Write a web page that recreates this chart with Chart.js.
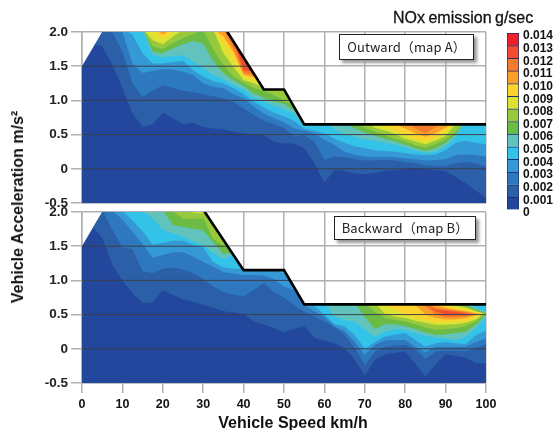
<!DOCTYPE html>
<html>
<head>
<meta charset="utf-8">
<title>NOx emission map</title>
<script src="https://cdn.jsdelivr.net/npm/chart.js@4/dist/chart.umd.min.js"></script>
<style>
  html, body { margin: 0; padding: 0; background: #fff; }
  #page { position: relative; width: 555px; height: 430px; overflow: hidden; font-family: "Liberation Sans", Arial, sans-serif; color: #111; }
  canvas { position: absolute; left: 0; top: 0; }
  .txt { position: absolute; white-space: nowrap; }
  .mapbox { position: absolute; box-sizing: border-box; background: #fff; border: 1.5px solid #222; box-shadow: 3px 3px 3px #999; font: 13px "Noto Sans CJK JP", sans-serif; letter-spacing: 0.1px; text-align: center; color: #222; }
</style>
</head>
<body>
<div id="page">
  <canvas id="outward" width="555" height="430"></canvas>
  <canvas id="backward" width="555" height="430"></canvas>
  <canvas id="scale" width="555" height="430"></canvas>
  <div class="txt" style="left:393px;top:9px;font-size:16px;word-spacing:-1px;-webkit-text-stroke:0.3px #111;">NOx emission g/sec</div>
  <div class="txt" style="left:293px;top:414px;transform:translateX(-50%);font-size:16px;font-weight:bold;">Vehicle Speed km/h</div>
  <div class="txt" style="left:18px;top:207px;transform:translate(-50%,-50%) rotate(-90deg);font-size:16px;font-weight:bold;">Vehicle Acceleration m/s²</div>
  <div class="mapbox" style="left:339px;top:34px;width:135px;height:26px;line-height:23px;">Outward（map A）</div>
  <div class="mapbox" style="left:334px;top:216px;width:142px;height:24px;line-height:21px;">Backward（map B）</div>
</div>
<script>
const speedTicks = [0, 10, 20, 30, 40, 50, 60, 70, 80, 90, 100];
const accelTicks = [-0.5, 0, 0.5, 1.0, 1.5, 2.0];
const speedGrid = [0, 2.5, 5, 7.5, 10, 12.5, 15, 17.5, 20, 22.5, 25, 27.5, 30, 32.5, 35, 37.5, 40, 42.5, 45, 47.5, 50,
  52.5, 55, 57.5, 60, 62.5, 65, 67.5, 70, 72.5, 75, 77.5, 80, 82.5, 85, 87.5, 90, 92.5, 95, 97.5, 100];

// colour steps of the scale bar, 0 .. 0.014
const noxColors = ['#22479c', '#2b5fa8', '#2e78bf', '#3499d4', '#33c3e8', '#62c3bd', '#6bbb45',
  '#97c93c', '#dde233', '#fdd42e', '#f9a02b', '#f47a2d', '#f04e2e', '#ed2226'];
const noxStep = 0.001;

// operating limit of each map, [speed, accel]
const outwardLimit = [[0, 1.5], [5, 2], [36, 2], [45, 1.16], [50, 1.16], [55, 0.65], [100, 0.65]];
const backwardLimit = [[0, 1.5], [5, 2], [30.4, 2], [40, 1.15], [50, 1.15], [55, 0.65], [100, 0.65]];
const outwardEdge = [[36, 2], [45, 1.16], [50, 1.16], [55, 0.65], [100, 0.65]];
const backwardEdge = [[30.4, 2], [40, 1.15], [50, 1.15], [55, 0.65], [100, 0.65]];
// dark lines over the coloured part, [accel, speed it runs to]
const outwardRules = [[1.5, 41.4], [1.0, 51.6], [0.5, 100], [0, 100]];
const backwardRules = [[1.5, 35.9], [1.0, 51.5], [0.5, 100], [0, 100]];

// contours: [colour step, first speed, accel per speedGrid step]
const outwardContours = [
  [1, 0, [2.05,1.83,1.79,1.52,1.18,.81,.61,.65,.82,.74,.65,.67,.61,.59,.58,.54,.52,.50,.49,.40,.37, .37,.30,.08,-.20,-.02,-.03,-.07,-.08,-.06,-.03,-.02,0,.01,0,-.02,-.03,-.12,-.21,-.32,-.42]],
  [2, 5, [2.05,2.0,1.71,1.25,1.05,1.14,1.22,1.18,1.14,1.12,1.09,1.06,1.03,.98,.88,.79,.70,.65,.60, .47,.49,.40,.13,.18,.17,.14,.12,.12,.13,.12,.10,.08,.05,.04,.04,.08,.10,.08,.03]],
  [3, 7.5, [2.05,2.0,1.54,1.40,1.43,1.46,1.45,1.42,1.37,1.25,1.20,1.18,1.09,1.03,.91,.81,.74,.68, .59,.56,.52,.42,.35,.25,.20,.18,.17,.18,.17,.15,.14,.12,.13,.14,.20,.21,.20,.18]],
  [4, 10, [2.05,1.96,1.69,1.54,1.54,1.56,1.58,1.44,1.35,1.28,1.25,1.18,1.09,.98,.90,.82,.77, .70,.59,.56,.52,.44,.38,.33,.30,.27,.26,.25,.23,.21,.20,.21,.27,.38,.41,.38,.36]],
  [5, 12.5, [2.05,2.03,1.66,1.63,1.65,1.66,1.57,1.47,1.37,1.31,1.22,1.16,1.04,.98,.92,.87, .81,.62,.72,.72,.58,.51,.47,.43,.41,.38,.35,.31,.27,.23,.25,.32,.47,.72,.72,.72]],
  [6, 15, [2.05,1.71,1.69,1.76,1.82,1.87,1.83,1.57,1.40,1.29,1.21,1.10,1.04,.98,.95, .85,.72,.72,.72,.71,.67,.59,.53,.48,.44,.40,.35,.30,.26,.30,.38,.50,.72]],
  [7, 15, [2.05,1.79,1.75,1.84,1.91,1.97,2.03,1.74,1.52,1.35,1.26,1.18,1.14,1.08,1.0, .92,.72,.72,.72,.72,.72,.66,.60,.54,.49,.44,.40,.34,.31,.36,.43,.54,.72]],
  [8, 15, [2.05,1.88,1.82,1.93,2.03,2.05,2.05,2.03,1.69,1.49,1.30,1.25,1.18,1.25]],
  [8, 67.5, [.72,.69,.60,.56,.51,.44,.40,.36,.41,.48,.66,.72]],
  [9, 15, [2.05,2.03,1.90,2.03,2.05,2.05,2.05,2.05,1.83,1.61,1.34,1.30,1.25]],
  [9, 70, [.72,.69,.62,.57,.50,.44,.41,.46,.54,.69,.72]],
  [10, 17.5, [2.05,1.96,2.05,2.05,2.05,2.05,2.05,1.93,1.71,1.37,1.34,1.30]],
  [10, 75, [.72,.66,.59,.52,.47,.52,.60,.69]],
  [11, 32.5, [2.05,2.03,1.76,1.40,1.37,1.30]],
  [11, 80, [.69,.59,.52,.61,.69]],
  [12, 35, [2.05,1.88,1.44,1.42,1.30]]
];
const backwardContours = [
  [1, 0, [2.05,1.8,1.62,1.23,1.0,.81,.67,.68,.86,.79,.72,.69,.64,.60,.55,.53,.51,.40,.36,.30,.24, .29,.33,.16,.12,.08,.01,-.16,-.39,-.16,-.08,-.06,-.04,-.22,-.40,-.23,-.08,-.10,-.13,-.21,-.21]],
  [2, 2.5, [2.05,2.03,1.74,1.48,1.46,1.13,1.11,1.17,1.19,1.16,1.11,1.02,.91,.83,.79,.77,.86,.96,.83,.75, .64,.54,.47,.40,.31,.20,.01,-.24,-.04,.03,.05,.06,-.01,-.15,-.04,-.03,-.03,-.04,.01,.06]],
  [3, 5, [2.05,2.02,1.89,1.71,1.53,1.33,1.37,1.41,1.41,1.35,1.27,1.20,1.12,1.10,1.08,1.08,1.07,1.02,.91, .86,.64,.55,.47,.33,.26,.10,-.09,.06,.12,.13,.13,.03,-.05,.03,.03,.03,.03,.10,.15]],
  [4, 7.5, [2.05,2.01,1.88,1.72,1.52,1.55,1.58,1.58,1.52,1.48,1.27,1.19,1.17,1.17,1.16,1.16,1.15,1.11, .91,.65,.63,.50,.36,.33,.20,0,.10,.18,.21,.23,.13,.03,.08,.10,.08,.07,.20,.26]],
  [5, 10, [2.05,2.02,2.01,1.91,1.74,1.69,1.64,1.57,1.51,1.40,1.31,1.38]],
  [5, 55, [.72,.67,.67,.47,.42,.40,.28,.18,.25,.29,.28,.23,.19,.16,.15,.13,.18,.30,.47]],
  [6, 17.5, [2.05,2.02,1.81,1.78,1.76,1.73,1.55,1.39,1.40]],
  [6, 65, [.72,.67,.47,.29,.36,.36,.33,.29,.24,.20,.21,.23,.25,.35,.50]],
  [7, 20, [2.05,2.01,1.90,1.90,1.91,1.60,1.51,1.40]],
  [7, 67.5, [.72,.67,.54,.45,.42,.40,.36,.31,.28,.29,.30,.33,.40,.52]],
  [8, 25, [2.05,1.99,1.98,2.05]],
  [8, 70, [.72,.67,.51,.47,.45,.41,.38,.35,.35,.36,.38,.43,.54]],
  [9, 72.5, [.72,.67,.57,.50,.46,.42,.40,.40,.40,.40,.47,.56]],
  [10, 77.5, [.72,.68,.64,.50,.45,.43,.43,.45,.49,.60]],
  [11, 82.5, [.68,.62,.50,.46,.46,.47,.51,.60]],
  [12, 85, [.68,.55,.50,.49,.51,.66]],
  // upper side of the ridge, where the values fall again towards the limit
  [11, 85, [.66,.57,.56,.54,.52,.50]],
  [10, 85, [.66,.60,.57,.56,.54,.51]],
  [9, 85, [.66,.64,.60,.57,.55,.52,.49]],
  [8, 85, [.68,.66,.63,.60,.57,.53,.50]],
  [7, 87.5, [.68,.66,.63,.60,.55,.51]],
  [6, 90, [.68,.66,.62,.56,.51]],
  [5, 92.5, [.68,.64,.58,.52]],
  [4, 95, [.68,.60,.53]]
];

const gridGrey = '#b0b0b0';
const speedFont = { family: '"Liberation Sans", Arial, sans-serif', size: 12.5, weight: 'bold' };
const accelFont = { family: '"Liberation Sans", Arial, sans-serif', size: 13.5, weight: 'bold' };

const toPoints = (pairs) => pairs.map(([x, y]) => ({ x, y }));

function mapDatasets(limit, edge, rules, contours) {
  const line = { pointRadius: 0, borderWidth: 0, fill: false, tension: 0 };
  // index 0 is the limit every contour fills up to. Lower indexes paint last.
  const sets = [{ ...line, data: toPoints(limit) }];
  sets.push({ ...line, data: toPoints(edge), borderColor: '#000', borderWidth: 2.6, borderCapStyle: 'round' });
  rules.forEach(([accel, end]) => {
    sets.push({ ...line, data: [{ x: 0, y: accel }, { x: end, y: accel }], borderColor: '#3a3f4a', borderWidth: 1 });
  });
  [...contours].reverse().forEach(([step, start, values]) => {
    const first = speedGrid.indexOf(start);
    sets.push({
      ...line,
      data: values.map((y, i) => ({ x: speedGrid[first + i], y })),
      fill: { target: 0, above: 'transparent', below: noxColors[step] }
    });
  });
  sets.push({ ...line, data: toPoints(limit), backgroundColor: noxColors[0], fill: 'start' });
  return sets;
}

function makeMap(id, limit, edge, rules, contours, top, bottom, showSpeed) {
  return new Chart(document.getElementById(id), {
    type: 'line',
    data: { datasets: mapDatasets(limit, edge, rules, contours) },
    options: {
      responsive: false,
      animation: false,
      events: [],
      layout: { padding: { top, right: 69, bottom: showSpeed ? 0 : bottom, left: 0 } },
      plugins: { legend: { display: false }, tooltip: { enabled: false } },
      scales: {
        x: {
          type: 'linear', min: 0, max: 100,
          afterBuildTicks: (s) => { s.ticks = speedTicks.map((value) => ({ value })); },
          afterFit: (s) => { s.height = showSpeed ? bottom : 0; },
          grid: { color: gridGrey, lineWidth: 1.5, drawTicks: showSpeed, tickLength: 10 },
          border: { color: gridGrey, width: 1.5 },
          ticks: { display: showSpeed, color: '#111', font: speedFont, padding: 4, maxRotation: 0, autoSkip: false }
        },
        y: {
          min: -0.5, max: 2,
          afterBuildTicks: (s) => { s.ticks = accelTicks.map((value) => ({ value })); },
          afterFit: (s) => { s.width = 82; },
          grid: { color: gridGrey, lineWidth: 1.5, tickLength: 11 },
          border: { color: gridGrey, width: 1.5 },
          ticks: { color: '#222', font: accelFont, padding: 3, callback: (v) => (v === 0 ? '0' : v.toFixed(1)) }
        }
      }
    }
  });
}

makeMap('outward', outwardLimit, outwardEdge, outwardRules, outwardContours, 32, 227, false);
makeMap('backward', backwardLimit, backwardEdge, backwardRules, backwardContours, 212, 47, true);

new Chart(document.getElementById('scale'), {
  type: 'bar',
  data: {
    labels: ['NOx'],
    datasets: noxColors.map((color) => ({
      data: [noxStep], backgroundColor: color, borderColor: '#1d2f6a', borderWidth: 1,
      barPercentage: 1, categoryPercentage: 1
    }))
  },
  options: {
    responsive: false,
    animation: false,
    events: [],
    layout: { padding: { top: 33, right: 0, bottom: 220, left: 507 } },
    plugins: { legend: { display: false }, tooltip: { enabled: false } },
    scales: {
      x: { stacked: true, display: false },
      y: {
        stacked: true, position: 'right', min: 0, max: noxColors.length * noxStep,
        afterFit: (s) => { s.width = 36; },
        grid: { drawOnChartArea: false, drawTicks: false },
        border: { display: false },
        ticks: {
          stepSize: noxStep, autoSkip: false, padding: 4, labelOffset: 3,
          color: '#111', font: { family: '"Liberation Sans", Arial, sans-serif', size: 12, weight: 'bold' },
          callback: (v) => (v === 0 ? '0' : Number(v).toFixed(3))
        }
      }
    }
  }
});
</script>
</body>
</html>
